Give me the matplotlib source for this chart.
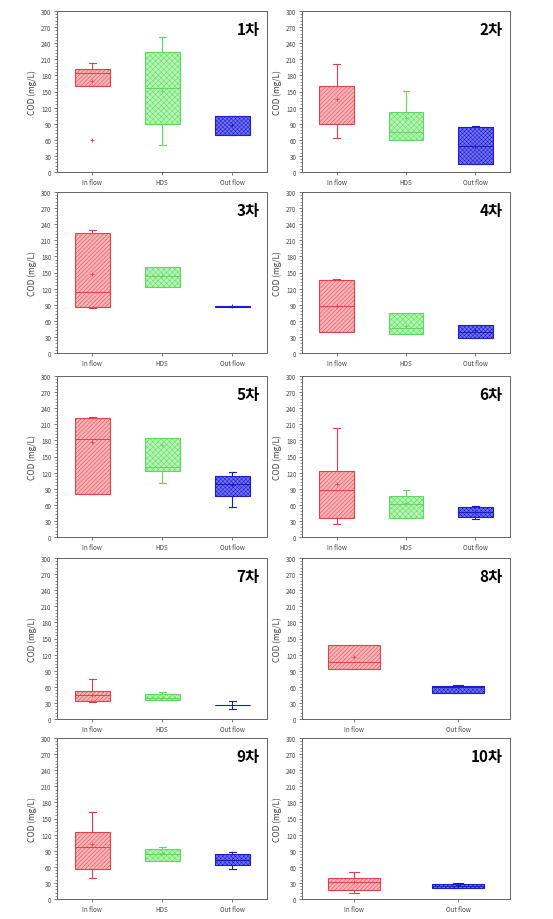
import matplotlib
matplotlib.use("Agg")
import matplotlib.pyplot as plt
from matplotlib.ticker import MultipleLocator

plt.rcParams['font.family'] = ['Noto Sans CJK KR', 'DejaVu Sans']
plt.rcParams['hatch.linewidth'] = 0.35

# panel titles and categories
panel_names = ['1차', '2차', '3차', '4차', '5차', '6차', '7차', '8차', '9차', '10차']
cats3 = ['In flow', 'HDS', 'Out flow']
cats2 = ['In flow', 'Out flow']
panel_cats = [cats3, cats3, cats3, cats3, cats3, cats3, cats3, cats2, cats3, cats2]

# box statistics (COD, mg/L)
whislo = [[160, 51, 69], [64, 59, 14], [84, 123, 86], [39, 35, 28], [81, 100, 56],
          [24, 35, 34], [32, 35, 19], [93, 49], [39, 70, 55], [11, 21]]
q1 = [[160, 90, 69], [89, 59, 14], [86, 123, 86], [39, 35, 28], [81, 123, 76],
      [35, 36, 38], [34, 35, 26], [94, 49], [55, 70, 63], [17, 21]]
med = [[184, 157, 104], [90, 74, 49], [114, 143, 87], [88, 46, 39], [182, 130, 98],
       [87, 62, 46], [45, 40, 26], [107, 60], [97, 84, 72], [31, 25]]
q3 = [[191, 224, 105], [161, 112, 84], [224, 161, 88], [136, 75, 52], [222, 185, 114],
      [123, 76, 55], [52, 46, 27], [138, 62], [125, 94, 83], [40, 28]]
whishi = [[204, 252, 105], [201, 151, 85], [230, 161, 88], [137, 75, 52], [223, 185, 122],
          [203, 87, 58], [74, 50, 34], [138, 64], [162, 96, 87], [51, 29]]
means = [[169, 151, 88], [136, 100, 49], [148, 143, 87], [88, 51, 42], [177, 172, 97],
         [99, 64, 46], [45, 40, 26], [116, 60], [102, 85, 72], [31, 26]]
outliers = {(0, 0): [60]}

face = {'In flow': '#f8b4b4', 'HDS': '#b4f5b4', 'Out flow': '#7070f4'}
edge = {'In flow': '#e0404f', 'HDS': '#5fd85f', 'Out flow': '#1c1cc8'}
hatch = {'In flow': '////////', 'HDS': 'xxxxxx', 'Out flow': 'xxxxxxxx'}

fig = plt.figure(figsize=(5.53, 9.20), dpi=100)

col_left = [57 / 553, 302 / 553]
col_w = [210 / 553, 208 / 553]
row_bottom = [173, 354, 538, 720, 900]
row_h = 161

for p, name in enumerate(panel_names):
    r, c = divmod(p, 2)
    ax = fig.add_axes([col_left[c], 1 - row_bottom[r] / 920, col_w[c], row_h / 920])
    cats = panel_cats[p]
    stats = []
    for i, cat in enumerate(cats):
        stats.append(dict(label=cat, med=med[p][i], q1=q1[p][i], q3=q3[p][i],
                          whislo=whislo[p][i], whishi=whishi[p][i], mean=means[p][i],
                          fliers=outliers.get((p, i), [])))
    bp = ax.bxp(stats, positions=range(1, len(cats) + 1), widths=0.5,
                patch_artist=True, showmeans=True, capwidths=0.1,
                meanprops=dict(marker='+', markersize=3, markeredgewidth=0.6),
                flierprops=dict(marker='+', markersize=3, markeredgewidth=0.6))
    for i, cat in enumerate(cats):
        box = bp['boxes'][i]
        box.set_facecolor(face[cat])
        box.set_edgecolor(edge[cat])
        box.set_hatch(hatch[cat])
        box.set_linewidth(0.8)
        bp['medians'][i].set_color(edge[cat])
        bp['medians'][i].set_linewidth(0.7)
        for ln in bp['whiskers'][2 * i:2 * i + 2] + bp['caps'][2 * i:2 * i + 2]:
            ln.set_color(edge[cat])
            ln.set_linewidth(0.8)
        bp['means'][i].set_color(edge[cat])
        bp['means'][i].set_markeredgecolor(edge[cat])
        if bp['fliers']:
            bp['fliers'][i].set_markeredgecolor(edge[cat])

    ax.set_xlim(0.5, len(cats) + 0.5)
    ax.set_ylim(0, 300)
    ax.yaxis.set_major_locator(MultipleLocator(30))
    ax.yaxis.set_minor_locator(MultipleLocator(6))
    ax.tick_params(axis='both', which='major', labelsize=4.5, length=2.5, width=0.5,
                   colors='#444444', pad=1.5)
    ax.tick_params(axis='y', which='minor', length=1.5, width=0.4, colors='#444444')
    ax.set_xticks(range(1, len(cats) + 1))
    ax.set_xticklabels(cats)
    ax.set_ylabel('COD (mg/L)', fontsize=6, color='#444444', labelpad=3)
    for s in ax.spines.values():
        s.set_color('#666666')
        s.set_linewidth(0.7)
    ax.text(0.965, 0.94, name, transform=ax.transAxes, ha='right', va='top',
            fontsize=11, fontweight='bold', color='black')

fig.savefig('out.png', dpi=100)
